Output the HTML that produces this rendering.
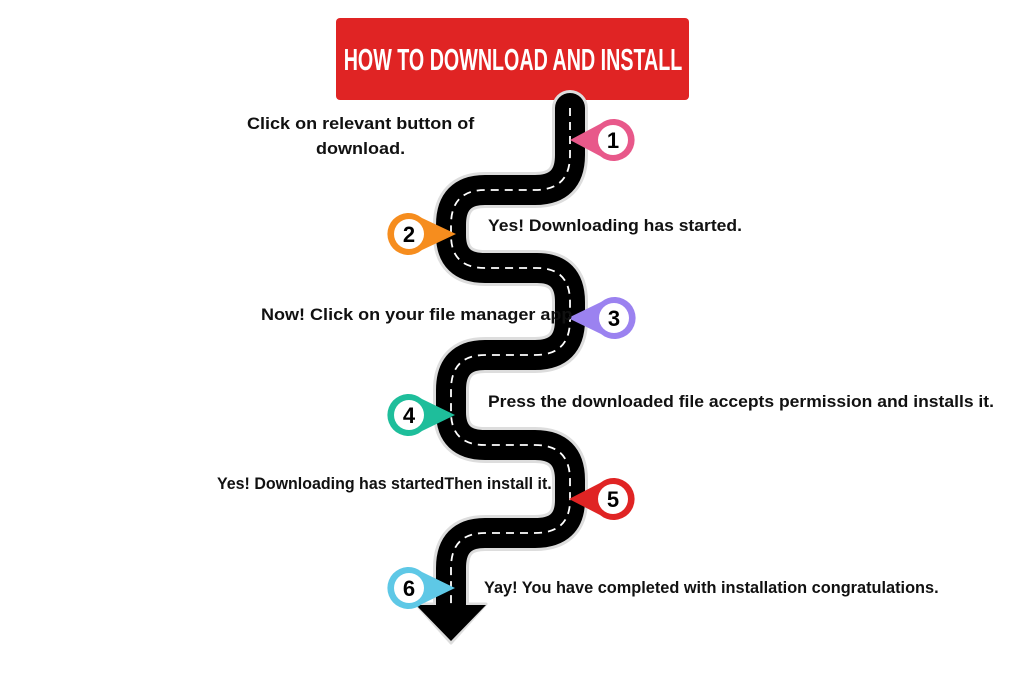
<!DOCTYPE html>
<html><head><style>
body{margin:0;width:1024px;height:683px;background:#fff;position:relative;overflow:hidden;font-family:"Liberation Sans",sans-serif}
.t{position:absolute;font-weight:bold;font-size:17px;color:#111;white-space:nowrap;transform-origin:0 50%}
.title{position:absolute;left:336px;top:18px;width:353px;height:82px;background:#e02424;border-radius:4px;color:#fff;font-size:31px;line-height:84px;white-space:nowrap;font-family:"Liberation Sans Narrow","Liberation Sans",sans-serif}
.title span{position:absolute;left:50%;top:0;transform:translateX(-50%) scaleX(0.635);transform-origin:50% 50%;font-weight:bold}
</style></head><body>
<div class="title"><span>HOW TO DOWNLOAD AND INSTALL</span></div>
<svg width="1024" height="683" style="position:absolute;left:0;top:0">
<defs>
<path id="r" d="M570,108 L570,155 Q570,190 535,190 L485,190 Q451,190 451,225 L451,235 Q451,268 485,268 L537,268 Q570,268 570,302 L570,320 Q570,355 535,355 L485,355 Q451,355 451,390 L451,412 Q451,445 485,445 L535,445 Q570,445 570,480 L570,500 Q570,533 535,533 L485,533 Q451,533 451,568 L451,605"/>
</defs>
<path d="M416,604 L486,604 L451,643 Z" fill="#000" stroke="#ddd" stroke-width="3" stroke-linejoin="round"/>
<use href="#r" fill="none" stroke="#ddd" stroke-width="36" stroke-linecap="round"/>
<use href="#r" fill="none" stroke="#000" stroke-width="30" stroke-linecap="round"/>
<path d="M416,605 L486,605 L451,641 Z" fill="#000"/>
<use href="#r" fill="none" stroke="#fff" stroke-width="1.8" stroke-dasharray="8,6"/>
<g stroke-width="5" fill="#fff">
<path d="M570,140 L600,124 A21,21 0 1 1 600,156 Z" fill="#e8588a"/><circle cx="613" cy="140" r="15"/>
<path d="M456,234 L422,218 A21,21 0 1 0 422,250 Z" fill="#f68d1e"/><circle cx="409" cy="234" r="15"/>
<path d="M568,318 L601,302 A21,21 0 1 1 601,334 Z" fill="#9b82f0"/><circle cx="614" cy="318" r="15"/>
<path d="M455,415 L422,399 A21,21 0 1 0 422,431 Z" fill="#1ebe9b"/><circle cx="409" cy="415" r="15"/>
<path d="M569,499 L600,483 A21,21 0 1 1 600,515 Z" fill="#e02424"/><circle cx="613" cy="499" r="15"/>
<path d="M455,588 L422,572 A21,21 0 1 0 422,604 Z" fill="#5ec8e6"/><circle cx="409" cy="588" r="15"/>
</g>
<g font-family="Liberation Sans,sans-serif" font-weight="bold" font-size="22" text-anchor="middle" fill="#000">
<text x="613" y="148">1</text><text x="409" y="242">2</text><text x="614" y="326">3</text>
<text x="409" y="423">4</text><text x="613" y="507">5</text><text x="409" y="596">6</text>
</g>
</svg>
<div class="t" style="left:247px;top:114px;transform:scaleX(1.06)">Click on relevant button of</div>
<div class="t" style="left:316px;top:139px;transform:scaleX(1.06)">download.</div>
<div class="t" style="left:488px;top:216px;transform:scaleX(1.03)">Yes! Downloading has started.</div>
<div class="t" style="left:261px;top:305px;transform:scaleX(1.06)">Now! Click on your file manager app</div>
<div class="t" style="left:488px;top:392px;transform:scaleX(1.03)">Press the downloaded file accepts permission and installs it.</div>
<div class="t" style="left:217px;top:474px;transform:scaleX(0.94)">Yes! Downloading has startedThen install it.</div>
<div class="t" style="left:484px;top:578px;transform:scaleX(0.96)">Yay! You have completed with installation congratulations.</div>
</body></html>
